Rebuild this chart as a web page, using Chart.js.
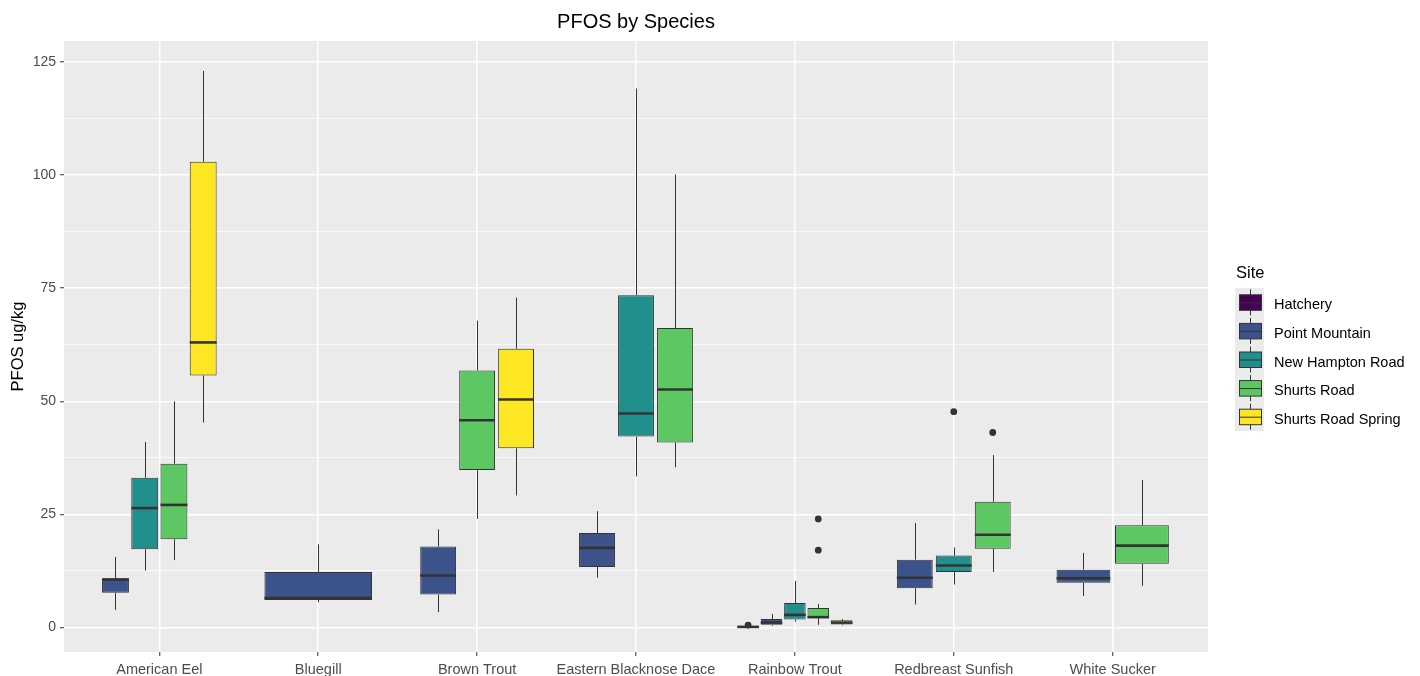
<!DOCTYPE html>
<html>
<head>
<meta charset="utf-8">
<script src="https://cdn.jsdelivr.net/npm/chart.js@4/dist/chart.umd.min.js"></script>
<style>
  html, body { margin: 0; padding: 0; background: #fff; }
  canvas { display: block; }
</style>
</head>
<body>
<canvas id="chart" width="1420" height="676"></canvas>
<script>
var species = ["American Eel", "Bluegill", "Brown Trout", "Eastern Blacknose Dace",
               "Rainbow Trout", "Redbreast Sunfish", "White Sucker"];
var sites = ["Hatchery", "Point Mountain", "New Hampton Road", "Shurts Road", "Shurts Road Spring"];
var siteColors = ["#440154", "#3B528B", "#21908C", "#5DC863", "#FDE725"];

// one box per species: [lower whisker, Q1, median, Q3, upper whisker]
var hatchery = [null, null, null, null, [0.0, 0.05, 0.15, 0.35, 0.4], null, null];
var pointMountain = [
  [3.9, 7.7, 10.6, 10.9, 15.6],
  [5.6, 6.1, 6.5, 12.3, 18.4],
  [3.4, 7.3, 11.5, 17.9, 21.7],
  [11.0, 13.4, 17.6, 20.9, 25.7],
  [0.4, 0.6, 1.1, 1.9, 3.0],
  [5.1, 8.7, 11.0, 15.0, 23.1],
  [7.0, 9.9, 10.9, 12.8, 16.5]
];
var newHamptonRoad = [
  [12.6, 17.3, 26.4, 33.1, 41.0],
  null,
  null,
  [33.4, 42.2, 47.3, 73.4, 119.1],
  [1.3, 1.8, 2.8, 5.4, 10.3],
  [9.5, 12.3, 13.7, 15.9, 17.7],
  null
];
var shurtsRoad = [
  [14.9, 19.5, 27.1, 36.2, 50.0],
  null,
  [24.0, 34.8, 45.8, 56.8, 67.8],
  [35.4, 40.9, 52.6, 66.2, 100.1],
  [0.6, 2.1, 2.3, 4.3, 5.2],
  [12.3, 17.4, 20.5, 27.8, 38.1],
  [9.2, 14.1, 18.1, 22.6, 32.6]
];
var shurtsRoadSpring = [
  [45.3, 55.7, 63.0, 102.9, 123.0],
  null,
  [29.2, 39.6, 50.4, 61.6, 72.9],
  null,
  [0.5, 0.7, 1.1, 1.6, 1.9],
  null,
  null
];

// outlying points per species
var hatcheryOut = [[], [], [], [], [0.55], [], []];
var pointMountainOut = [[], [], [], [], [], [], []];
var newHamptonRoadOut = [[], [], [], [], [], [47.7], []];
var shurtsRoadOut = [[], [], [], [], [24.0, 17.1], [43.1], []];
var shurtsRoadSpringOut = [[], [], [], [], [], [], []];

var yTicks = [0, 12.5, 25, 37.5, 50, 62.5, 75, 87.5, 100, 112.5, 125];

var boxes = [hatchery, pointMountain, newHamptonRoad, shurtsRoad, shurtsRoadSpring];
var outliers = [hatcheryOut, pointMountainOut, newHamptonRoadOut, shurtsRoadOut, shurtsRoadSpringOut];

var FONT = "'Liberation Sans', Arial, sans-serif";
var INK = "#333333";

// whiskers, medians, outliers, title, axis title and legend
var boxplotPlugin = {
  id: "boxplot",
  beforeDraw: function(chart) {
    var a = chart.chartArea, ctx = chart.ctx;
    ctx.save();
    ctx.fillStyle = "#EBEBEB";
    ctx.fillRect(a.left, a.top, a.right - a.left, a.bottom - a.top);
    ctx.restore();
  },
  afterDatasetsDraw: function(chart) {
    var ctx = chart.ctx, y = chart.scales.y;
    ctx.save();
    boxes.forEach(function(site, d) {
      var meta = chart.getDatasetMeta(d);
      site.forEach(function(b, i) {
        if (!b) return;
        var el = meta.data[i];
        var x = Math.round(el.x) + 0.5, half = el.width / 2;
        ctx.strokeStyle = INK;
        ctx.lineWidth = 1;
        ctx.beginPath();
        ctx.moveTo(x, y.getPixelForValue(b[3]));
        ctx.lineTo(x, y.getPixelForValue(b[4]));
        ctx.moveTo(x, y.getPixelForValue(b[1]));
        ctx.lineTo(x, y.getPixelForValue(b[0]));
        ctx.stroke();
        ctx.lineWidth = 2.6;
        ctx.beginPath();
        ctx.moveTo(el.x - half, y.getPixelForValue(b[2]));
        ctx.lineTo(el.x + half, y.getPixelForValue(b[2]));
        ctx.stroke();
        ctx.fillStyle = INK;
        outliers[d][i].forEach(function(v) {
          ctx.beginPath();
          ctx.arc(el.x, y.getPixelForValue(v), 3.4, 0, Math.PI * 2);
          ctx.fill();
        });
      });
    });
    ctx.restore();
  },
  afterDraw: function(chart) {
    var ctx = chart.ctx, a = chart.chartArea;
    ctx.save();
    ctx.fillStyle = "#000";
    ctx.textAlign = "center";
    ctx.textBaseline = "middle";
    ctx.font = "20px " + FONT;
    ctx.fillText("PFOS by Species", (a.left + a.right) / 2, 22);

    ctx.save();
    ctx.translate(18, (a.top + a.bottom) / 2);
    ctx.rotate(-Math.PI / 2);
    ctx.font = "16.5px " + FONT;
    ctx.fillText("PFOS ug/kg", 0, 0);
    ctx.restore();

    // legend
    ctx.textAlign = "left";
    ctx.textBaseline = "alphabetic";
    ctx.font = "16.5px " + FONT;
    ctx.fillText("Site", 1236, 278);
    var top = 288, keyH = 28.6;
    ctx.fillStyle = "#EBEBEB";
    ctx.fillRect(1235, top, 29, keyH * sites.length);
    ctx.font = "14.5px " + FONT;
    ctx.textBaseline = "middle";
    sites.forEach(function(name, k) {
      var cy = top + keyH * (k + 0.5);
      ctx.strokeStyle = INK;
      ctx.lineWidth = 1;
      ctx.beginPath();
      ctx.moveTo(1250.5, cy - 13);
      ctx.lineTo(1250.5, cy + 13);
      ctx.stroke();
      ctx.fillStyle = siteColors[k];
      ctx.fillRect(1239, cy - 7.5, 23, 15.5);
      ctx.strokeRect(1239.5, cy - 7.5, 22, 15.5);
      ctx.beginPath();
      ctx.moveTo(1239, cy + 0.5);
      ctx.lineTo(1262, cy + 0.5);
      ctx.stroke();
      ctx.fillStyle = "#000";
      ctx.fillText(name, 1274, cy + 3);
    });
    ctx.restore();
  }
};

var datasets = sites.map(function(name, d) {
  return {
    label: name,
    data: boxes[d].map(function(b, i) {
      return { x: i, y: b ? [b[1], b[3]] : null };
    }),
    backgroundColor: siteColors[d],
    borderColor: INK,
    borderWidth: 1,
    borderSkipped: false,
    skipNull: true,
    categoryPercentage: 0.736,
    barPercentage: 0.92
  };
});

new Chart(document.getElementById("chart").getContext("2d"), {
  type: "bar",
  data: { datasets: datasets },
  options: {
    responsive: false,
    animation: false,
    events: [],
    layout: { padding: { top: 41, right: 212, left: 0, bottom: 0 } },
    plugins: {
      legend: { display: false },
      title: { display: false },
      tooltip: { enabled: false }
    },
    scales: {
      x: {
        type: "linear",
        min: -0.6,
        max: 6.6,
        offset: false,
        afterBuildTicks: function(scale) {
          scale.ticks = species.map(function(s, i) { return { value: i }; });
        },
        afterFit: function(scale) { scale.height = 24; },
        border: { display: false },
        grid: { offset: false, color: "#FFFFFF", lineWidth: 1.5, tickColor: INK, tickLength: 4, tickWidth: 1 },
        ticks: {
          color: "#4D4D4D",
          font: { family: FONT, size: 14.5 },
          padding: 5,
          maxRotation: 0,
          autoSkip: false,
          callback: function(v) { return species[v]; }
        }
      },
      y: {
        min: -5.4,
        max: 129.6,
        afterBuildTicks: function(scale) {
          scale.ticks = yTicks.map(function(v) { return { value: v }; });
        },
        afterFit: function(scale) { scale.width = 64; },
        border: { display: false },
        grid: {
          color: "#FFFFFF",
          lineWidth: function(c) { return c.tick && c.tick.value % 25 === 0 ? 1.5 : 0.75; },
          tickColor: function(c) { return c.tick && c.tick.value % 25 === 0 ? INK : "rgba(0,0,0,0)"; },
          tickLength: 4,
          tickWidth: 1
        },
        ticks: {
          color: "#4D4D4D",
          font: { family: FONT, size: 14 },
          padding: 4,
          autoSkip: false,
          callback: function(v) { return v % 25 === 0 ? v : ""; }
        }
      }
    }
  },
  plugins: [boxplotPlugin]
});
</script>
</body>
</html>
